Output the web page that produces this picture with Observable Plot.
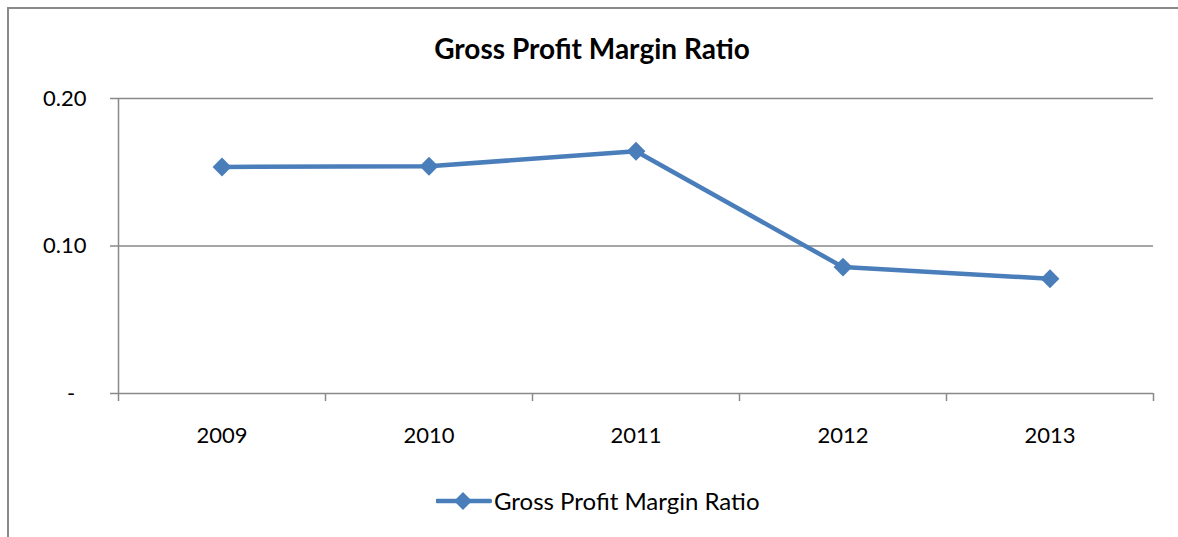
<!DOCTYPE html>
<html><head><meta charset="utf-8">
<script src="https://cdn.jsdelivr.net/npm/d3@7"></script>
<script src="https://cdn.jsdelivr.net/npm/@observablehq/plot@0.6"></script>
<style>
body{margin:0;overflow:hidden;background:#fff;font-family:Lato,sans-serif}
#wrap{position:relative;width:1178px;height:537px;overflow:hidden;background:#fff}
#border{position:absolute;left:7px;top:7px;width:1400px;height:800px;border-left:2px solid #8a8a8a;border-top:2px solid #8a8a8a;box-sizing:border-box}
#title{position:absolute;left:0;top:30px;width:1184px;text-align:center;font-weight:bold;font-size:28px;line-height:36px;color:#000}
#chart{position:absolute;left:0;top:0}
#legend{position:absolute;top:486px;left:436px;display:flex;align-items:center;font-size:24px;line-height:30px;color:#000}
#legend svg{margin-right:2px}
</style>
</head><body>
<div id="wrap">
  <div id="border"></div>
  <div id="chart"></div>
  <div id="title"></div>
  <div id="legend"></div>
</div>
<script>
const seriesName = "Gross Profit Margin Ratio";
const chartTitle = "Gross Profit Margin Ratio";
const years = ["2009", "2010", "2011", "2012", "2013"];
const ratios = [0.1536, 0.1541, 0.1642, 0.0857, 0.0778];
const yTicks = [0, 0.1, 0.2];
const yTickLabels = ["-\u00a0\u00a0", "0.10", "0.20"];

const lineColor = "#4a7ebb";
const gridColor = "#898989";
const idx = years.map((_, i) => i);
const seps = [-0.5, ...idx.map(i => i + 0.5)];
const data = years.map((y, i) => ({i, year: y, v: ratios[i]}));

const chart = Plot.plot({
  width: 1178, height: 537,
  marginLeft: 118, marginRight: 25, marginTop: 98, marginBottom: 144,
  style: {fontFamily: "Lato, sans-serif", fontSize: "22px", color: "#000", background: "transparent", overflow: "visible"},
  x: {domain: [-0.5, idx.length - 0.5]},
  y: {domain: [0, 0.2]},
  marks: [
    Plot.ruleY(yTicks.filter(d => d > 0), {stroke: gridColor, strokeWidth: 1.5}),
    Plot.ruleY([0], {stroke: gridColor, strokeWidth: 1.5}),
    Plot.ruleX([-0.5], {y1: 0, y2: 0.2, stroke: gridColor, strokeWidth: 1.5}),
    Plot.axisY({ticks: yTicks, tickFormat: d => yTickLabels[yTicks.indexOf(d)], tickSize: 8, tickPadding: 24,
      stroke: gridColor, strokeWidth: 1.5, fill: "#000", label: null}),
    Plot.axisX({ticks: seps, tickFormat: () => "", tickSize: 8, stroke: gridColor, strokeWidth: 1.5, label: null}),
    Plot.axisX({ticks: idx, tickFormat: i => years[i], tickSize: 0, tickPadding: 34, fill: "#000", label: null}),
    Plot.line(data, {x: "i", y: "v", stroke: lineColor, strokeWidth: 4.5}),
    Plot.dot(data, {x: "i", y: "v", symbol: "diamond2", r: 8.5, fill: lineColor, stroke: "none"})
  ]
});
document.getElementById("chart").appendChild(chart);
document.getElementById("title").textContent = chartTitle;

const leg = document.getElementById("legend");
leg.innerHTML = `<svg width="56" height="22" viewBox="0 0 56 22">
  <line x1="1" y1="11" x2="54" y2="11" stroke="${lineColor}" stroke-width="4.5" stroke-linecap="round"/>
  <polygon points="27,2 36,11 27,20 18,11" fill="${lineColor}"/>
</svg><span></span>`;
leg.querySelector("span").textContent = seriesName;
</script>
</body></html>
